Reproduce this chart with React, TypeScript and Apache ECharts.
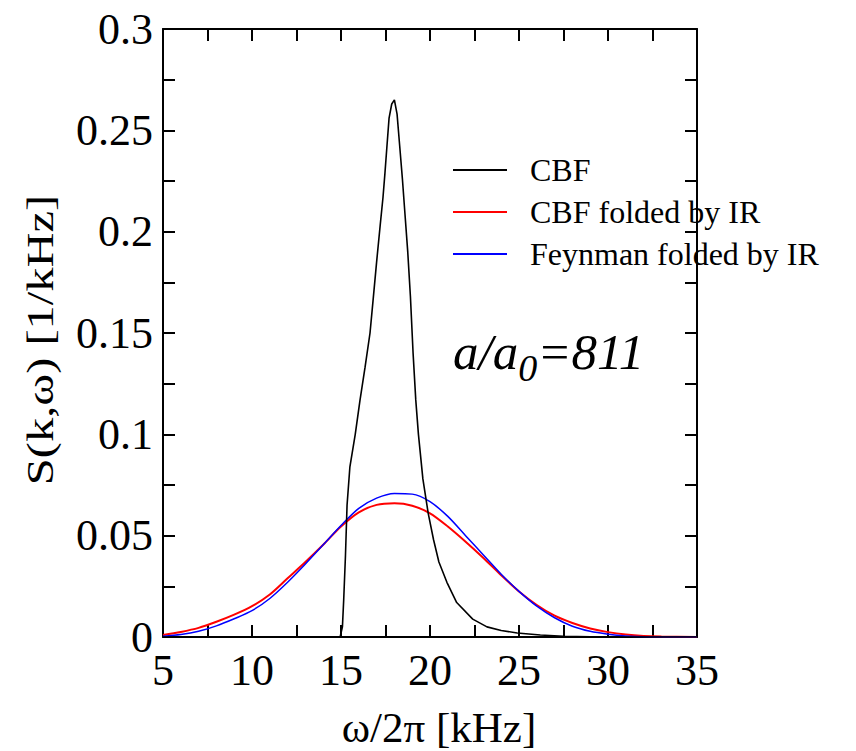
import React, { useEffect, useRef } from "react";
import * as echarts from "echarts";

const cbfX = [5, 14.95, 15.08, 15.15, 15.25, 15.34, 15.5, 15.8, 16.07, 16.35, 16.63, 16.8, 17.0, 17.2, 17.36, 17.47, 17.58, 17.7, 17.85, 18.0, 18.15, 18.3, 18.45, 18.6, 18.75, 18.9, 19.05, 19.2, 19.35, 19.6, 19.9, 20.2, 20.5, 20.95, 21.5, 22.4, 23.2, 24.0, 24.9, 26.2, 27.5, 29, 35];
const cbfY = [0, 0, 0.005, 0.018, 0.04, 0.065, 0.084, 0.1, 0.117, 0.133, 0.15, 0.166, 0.185, 0.203, 0.217, 0.229, 0.242, 0.256, 0.263, 0.265, 0.258, 0.242, 0.226, 0.208, 0.19, 0.168, 0.14, 0.117, 0.1, 0.078, 0.061, 0.048, 0.037, 0.027, 0.017, 0.0088, 0.005, 0.0032, 0.002, 0.001, 0.0004, 0.0001, 0];

const redX = [5, 6, 7, 8, 9, 10, 11, 12, 13, 14, 15, 16, 17, 18, 19, 20, 21, 22, 23, 24, 25, 26, 27, 28, 29, 30, 31, 32, 33, 35];
const redY = [0.001, 0.0025, 0.0045, 0.0075, 0.011, 0.0152, 0.021, 0.029, 0.037, 0.0455, 0.0545, 0.0615, 0.0652, 0.066, 0.0648, 0.061, 0.0545, 0.047, 0.039, 0.0305, 0.0225, 0.0158, 0.0105, 0.0069, 0.0042, 0.0024, 0.0012, 0.0005, 0.0002, 0];

const blueX = [5, 6, 7, 8, 9, 10, 11, 12, 13, 14, 15, 16, 17, 18, 19, 20, 21, 22, 23, 24, 25, 26, 27, 28, 29, 30, 31, 32, 35];
const blueY = [0.0004, 0.0012, 0.0028, 0.0055, 0.009, 0.013, 0.019, 0.027, 0.036, 0.0455, 0.055, 0.0635, 0.0685, 0.0708, 0.0705, 0.0668, 0.0595, 0.05, 0.0405, 0.031, 0.0225, 0.0152, 0.0095, 0.0053, 0.0028, 0.0014, 0.0005, 0.0001, 0];

const seriesNames = ["CBF", "CBF folded by IR", "Feynman folded by IR"];
const seriesColors = ["#000000", "#ff0000", "#0000ff"];

const pairs = (xs: number[], ys: number[]) => xs.map((x, i) => [x, ys[i]]);

const FONT = "Liberation Serif";

export default function App() {
  const ref = useRef<HTMLDivElement>(null);
  useEffect(() => {
    document.body.style.margin = "0";
    if (!ref.current) return;
    const chart = echarts.init(ref.current, null, { renderer: "svg" });
    const axisCommon = {
      axisLine: { show: true, onZero: false, lineStyle: { color: "#000", width: 2 } },
      axisTick: { show: true, inside: true, length: 12, lineStyle: { color: "#000", width: 2 } },
      minorTick: { show: true, splitNumber: 2, length: 12, lineStyle: { color: "#000", width: 2 } },
      splitLine: { show: false },
      minorSplitLine: { show: false },
    };
    chart.setOption({
      animation: false,
      backgroundColor: "#fff",
      grid: { left: 163, top: 29, right: 159, bottom: 114, containLabel: false },
      xAxis: [
        {
          type: "value", min: 5, max: 35, interval: 5, position: "bottom",
          ...axisCommon,
          axisLabel: { show: true, fontFamily: FONT, fontSize: 44, color: "#000", margin: 11 },
        },
        {
          type: "value", min: 5, max: 35, interval: 5, position: "top",
          ...axisCommon,
          axisLabel: { show: false },
        },
      ],
      yAxis: [
        {
          type: "value", min: 0, max: 0.3, interval: 0.05, position: "left",
          ...axisCommon,
          axisLabel: { show: true, fontFamily: FONT, fontSize: 44, color: "#000", margin: 10 },
        },
        {
          type: "value", min: 0, max: 0.3, interval: 0.05, position: "right",
          ...axisCommon,
          axisLabel: { show: false },
        },
      ],
      legend: {
        show: true,
        orient: "vertical",
        left: 448,
        top: 149,
        itemWidth: 54,
        itemHeight: 2,
        itemGap: 10,
        icon: "rect",
        textStyle: { fontFamily: FONT, fontSize: 32, lineHeight: 32, color: "#000", padding: [0, 0, 0, 18] },
        data: seriesNames,
      },
      series: [
        {
          name: seriesNames[0], type: "line", symbol: "none", data: pairs(cbfX, cbfY),
          lineStyle: { color: seriesColors[0], width: 1.6 }, itemStyle: { color: seriesColors[0] }, z: 3,
        },
        {
          name: seriesNames[1], type: "line", symbol: "none", smooth: 0.3, data: pairs(redX, redY),
          lineStyle: { color: seriesColors[1], width: 2 }, itemStyle: { color: seriesColors[1] }, z: 2,
        },
        {
          name: seriesNames[2], type: "line", symbol: "none", smooth: 0.3, data: pairs(blueX, blueY),
          lineStyle: { color: seriesColors[2], width: 1.5 }, itemStyle: { color: seriesColors[2] }, z: 2,
        },
      ],
      graphic: [
        {
          type: "text",
          x: 439, y: 727,
          style: { text: "ω/2π [kHz]", fontFamily: FONT, fontSize: 43, fill: "#000", align: "center", verticalAlign: "middle" },
        },
        {
          type: "text",
          x: 40, y: 340,
          rotation: Math.PI / 2,
          scaleY: 0.78,
          style: { text: "S(k,ω) [1/kHz]", fontFamily: FONT, fontSize: 48.5, fill: "#000", align: "center", verticalAlign: "middle" },
        },
        {
          type: "text",
          x: 453, y: 352,
          style: {
            text: "{a|a/a}{s|0}{a|=811}",
            verticalAlign: "middle",
            rich: {
              a: { fontFamily: FONT, fontStyle: "italic", fontSize: 51, fill: "#000", verticalAlign: "middle" },
              s: { fontFamily: FONT, fontStyle: "italic", fontSize: 38, fill: "#000", verticalAlign: "top", padding: [32, 0, 0, 0] },
            },
          },
        },
      ],
    });
    return () => chart.dispose();
  }, []);
  return <div ref={ref} style={{ width: 856, height: 751 }} />;
}
